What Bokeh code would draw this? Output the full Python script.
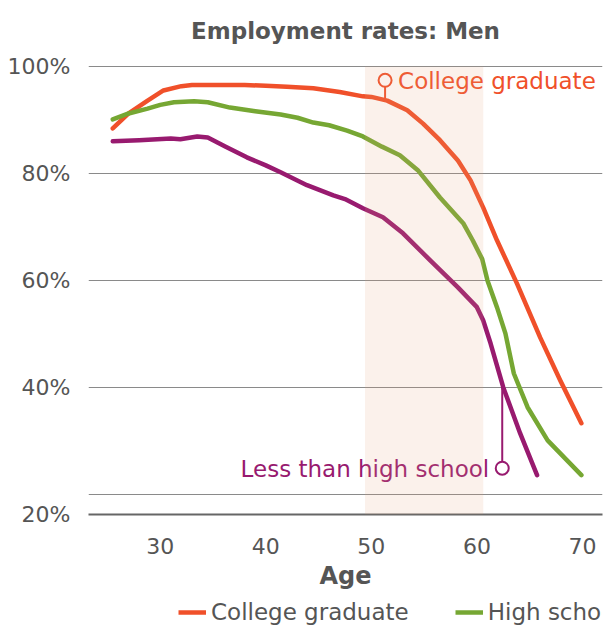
import numpy as np
from bokeh.plotting import figure
from bokeh.layouts import column
from bokeh.models import Range1d, FixedTicker, BoxAnnotation, Legend, LegendItem
from bokeh.core.properties import value
from bokeh.embed import file_html
from bokeh.resources import INLINE

FONT = "DejaVu Sans"
GREY = "#555555"
ORANGE = "#F0502A"
GREEN = "#76A733"
PURPLE = "#981A6F"

# Employment rate (%) of men by age, by education level
college_age = [25.5, 27, 28.8, 30.3, 32, 33, 35, 38, 40, 42, 44.5, 47, 49.2, 50,
               51.5, 53.4, 54.9, 56.5, 58.2, 59.4, 60.6, 61.9, 63.8, 66.0, 67.9, 69.9]
college_rate = [88.4, 91.2, 93.6, 95.5, 96.3, 96.5, 96.5, 96.5, 96.4, 96.2, 95.9, 95.2, 94.4, 94.3,
                93.6, 91.8, 89.3, 86.2, 82.4, 78.7, 73.6, 67.5, 59.4, 49.3, 41.3, 33.3]

highschool_age = [25.5, 27, 28.8, 30, 31.3, 33.2, 34.5, 36.6, 39, 41.4, 43, 44.5, 46, 47.7,
                  49.2, 51, 52.7, 54.4, 56.5, 58.7, 59.6, 60.5, 61.0, 61.9, 62.7, 63.5,
                  64.8, 66.7, 69.9]
highschool_rate = [90.1, 91.2, 92.1, 92.8, 93.3, 93.5, 93.3, 92.3, 91.6, 91.0, 90.4, 89.5, 89.0, 88.0,
                   86.9, 85.0, 83.4, 80.6, 75.5, 70.7, 67.5, 64.0, 60.0, 55.0, 50.1, 42.6,
                   36.3, 30.1, 23.6]

less_hs_age = [25.5, 28, 31.0, 31.9, 33.5, 34.5, 36.2, 38.2, 40, 41.4, 43.9, 46.4, 47.5,
               49.2, 51.1, 53.0, 55.6, 58.2, 60.0, 60.6, 61.3, 62.5, 64.1, 65.7]
less_hs_rate = [86.0, 86.2, 86.5, 86.4, 86.9, 86.7, 85.0, 83.0, 81.5, 80.2, 77.8, 75.9, 75.2,
                73.5, 71.8, 68.8, 63.7, 58.7, 55.0, 52.5, 48.2, 40.0, 31.4, 23.6]

series_names = ["College graduate", "High school", "Less than high school"]
series_colors = [ORANGE, GREEN, PURPLE]
series_ages = [college_age, highschool_age, less_hs_age]
series_rates = [college_rate, highschool_rate, less_hs_rate]

x_ticks = [30, 40, 50, 60, 70]
grid_values = [20, 40, 60, 80, 100]
y_tick_labels = ["20%", "40%", "60%", "80%", "100%"]

# highlighted age window
band_start, band_end = 49.4, 60.6

Y_BOTTOM = 16.25
W = 608
LEGEND_H = 30
MAIN_H = 626 - LEGEND_H

p = figure(width=W, height=MAIN_H, output_backend="svg", toolbar_location=None,
           x_range=Range1d(23.2, 71.9), y_range=Range1d(Y_BOTTOM, 101.1),
           min_border_left=88, min_border_right=6, min_border_top=60,
           min_border_bottom=MAIN_H - 514)

p.title.text = "Employment rates: Men"
p.title.align = "center"
p.title.vertical_align = "top"
p.title.text_font = FONT
p.title.text_font_size = "23px"
p.title.text_font_style = "bold"
p.title.text_color = GREY
p.title.standoff = 30

p.outline_line_color = None
p.background_fill_color = "white"
p.border_fill_color = "white"

# x axis
p.xaxis.ticker = FixedTicker(ticks=x_ticks)
p.xaxis.major_label_text_font = FONT
p.xaxis.major_label_text_font_size = "22px"
p.xaxis.major_label_text_color = GREY
p.xaxis.major_tick_line_color = None
p.xaxis.minor_tick_line_color = None
p.xaxis.axis_line_color = "#666666"
p.xaxis.axis_line_width = 2
p.xaxis.major_label_standoff = 17
p.xaxis.axis_label = "Age"
p.xaxis.axis_label_text_font = FONT
p.xaxis.axis_label_text_font_size = "24px"
p.xaxis.axis_label_text_font_style = "bold"
p.xaxis.axis_label_text_color = GREY
p.xaxis.axis_label_standoff = 5

# y axis: the lowest label sits on the baseline
y_label_ticks = [Y_BOTTOM] + grid_values[1:]
p.yaxis.ticker = FixedTicker(ticks=y_label_ticks)
p.yaxis.major_label_overrides = {t: lab for t, lab in zip(y_label_ticks, y_tick_labels)}
p.yaxis.major_label_text_font = FONT
p.yaxis.major_label_text_font_size = "22px"
p.yaxis.major_label_text_color = GREY
p.yaxis.major_tick_line_color = None
p.yaxis.minor_tick_line_color = None
p.yaxis.axis_line_color = None
p.yaxis.major_label_standoff = 12

p.xgrid.visible = False
p.ygrid.ticker = FixedTicker(ticks=grid_values)
p.ygrid.grid_line_color = "#8a8a8a"
p.ygrid.grid_line_width = 1.2

line_kw = dict(line_width=4.5, line_cap="round", line_join="round")
for ages, rates, color in zip(series_ages, series_rates, series_colors):
    p.line(ages, rates, color=color, **line_kw)

# direct labels with pin markers
col_pin_x, col_pin_y = 51.3, 97.4
less_pin_x, less_pin_y = 62.4, 24.9
col_on_line = float(np.interp(col_pin_x, college_age, college_rate))
less_on_line = float(np.interp(less_pin_x, less_hs_age, less_hs_rate))

p.segment(x0=[col_pin_x], y0=[col_on_line], x1=[col_pin_x], y1=[col_pin_y],
          line_color=ORANGE, line_width=2)
p.segment(x0=[less_pin_x], y0=[less_on_line], x1=[less_pin_x], y1=[less_pin_y],
          line_color=PURPLE, line_width=2)
p.scatter([col_pin_x], [col_pin_y], marker="circle", size=13, fill_color="white",
          line_color=ORANGE, line_width=2)
p.scatter([less_pin_x], [less_pin_y], marker="circle", size=13, fill_color="white",
          line_color=PURPLE, line_width=2)

p.text(x=[col_pin_x], y=[col_pin_y], text=[series_names[0]], x_offset=13, y_offset=1,
       text_align="left", text_baseline="middle", text_color=ORANGE,
       text_font=value(FONT), text_font_size="23px")
p.text(x=[less_pin_x], y=[less_pin_y], text=[series_names[2]], x_offset=-13, y_offset=1,
       text_align="right", text_baseline="middle", text_color=PURPLE,
       text_font=value(FONT), text_font_size="23px")

band = BoxAnnotation(left=band_start, right=band_end, bottom=Y_BOTTOM, top=100,
                     fill_color="#E4A27A", fill_alpha=0.15, line_color=None)
p.add_layout(band)

# legend strip underneath the chart (its frame lines up with the chart's frame)
leg_fig = figure(width=W, height=LEGEND_H, output_backend="svg", toolbar_location=None,
                 x_range=Range1d(0, 1), y_range=Range1d(0, 1),
                 x_axis_type=None, y_axis_type=None, min_border=0)
leg_fig.outline_line_color = None
leg_fig.grid.visible = False
leg_items = []
for name, ages, rates, color in zip(series_names, series_ages, series_rates, series_colors):
    r = leg_fig.line(ages, rates, color=color, line_width=4.5)
    leg_items.append(LegendItem(label=name, renderers=[r]))

legend = Legend(items=leg_items, orientation="horizontal", location=(90, 0),
                label_text_font=FONT, label_text_font_size="23px", label_text_color=GREY,
                glyph_width=28, glyph_height=28, label_height=28, label_standoff=5,
                spacing=46, padding=0, margin=0, border_line_color=None,
                background_fill_alpha=0)
leg_fig.add_layout(legend)

layout = column(p, leg_fig, spacing=0)
open("out.html", "w").write(file_html(layout, INLINE))
